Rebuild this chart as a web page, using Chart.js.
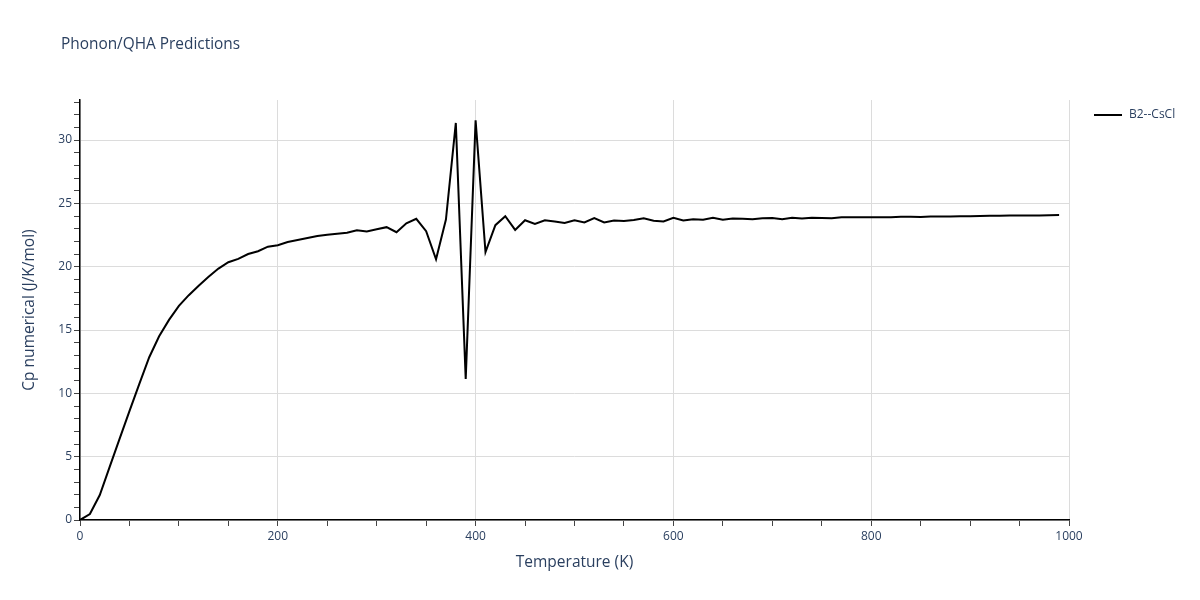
<!DOCTYPE html>
<html>
<head>
<meta charset="utf-8">
<script src="https://cdn.jsdelivr.net/npm/chart.js@4.4.1/dist/chart.umd.min.js"></script>
<style>
    html, body { margin: 0; padding: 0; background: #fff; }
    #wrap { width: 1200px; height: 600px; }
</style>
</head>
<body>
<div id="wrap"><canvas id="cpChart" width="1200" height="600"></canvas></div>
<script>
const temperatures = [
    0, 10, 20, 30, 40, 50, 60, 70, 80, 90,
    100, 110, 120, 130, 140, 150, 160, 170, 180, 190,
    200, 210, 220, 230, 240, 250, 260, 270, 280, 290,
    300, 310, 320, 330, 340, 350, 360, 370, 380, 390,
    400, 410, 420, 430, 440, 450, 460, 470, 480, 490,
    500, 510, 520, 530, 540, 550, 560, 570, 580, 590,
    600, 610, 620, 630, 640, 650, 660, 670, 680, 690,
    700, 710, 720, 730, 740, 750, 760, 770, 780, 790,
    800, 810, 820, 830, 840, 850, 860, 870, 880, 890,
    900, 910, 920, 930, 940, 950, 960, 970, 980, 990
];

const cpValues = [
    0, 0.47, 1.97, 4.2, 6.4, 8.6, 10.75, 12.85, 14.5, 15.8,
    16.9, 17.75, 18.5, 19.2, 19.85, 20.35, 20.62, 21.0, 21.22, 21.58,
    21.7, 21.95, 22.1, 22.26, 22.42, 22.52, 22.6, 22.68, 22.88, 22.78,
    22.95, 23.12, 22.72, 23.42, 23.78, 22.8, 20.58, 23.72, 31.35, 11.14,
    31.55, 21.15, 23.28, 23.98, 22.9, 23.67, 23.38, 23.67, 23.57, 23.45,
    23.67, 23.49, 23.83, 23.49, 23.65, 23.6, 23.68, 23.83, 23.62, 23.57,
    23.86, 23.65, 23.75, 23.7, 23.86, 23.7, 23.8, 23.78, 23.75, 23.83,
    23.85, 23.75, 23.86, 23.8, 23.86, 23.85, 23.83, 23.9, 23.9, 23.9,
    23.9, 23.9, 23.9, 23.95, 23.95, 23.93, 23.97, 23.97, 23.96, 23.99,
    23.99, 24.01, 24.02, 24.02, 24.04, 24.05, 24.05, 24.05, 24.07, 24.08
];

const seriesName = 'B2--CsCl';
const chartTitle = 'Phonon/QHA Predictions';
const xTitle = 'Temperature (K)';
const yTitle = 'Cp numerical (J/K/mol)';

const textColor = '#2a3f5f';
const gridColor = '#dcdcdc';
const fontFamily = '"Open Sans", verdana, arial, sans-serif';

Chart.defaults.font.family = fontFamily;
Chart.defaults.color = textColor;

// title + legend drawn like plotly puts them
const decorations = {
    id: 'decorations',
    afterDraw(chart) {
        const ctx = chart.ctx;
        ctx.save();
        ctx.fillStyle = textColor;
        ctx.textBaseline = 'middle';
        ctx.textAlign = 'left';
        ctx.font = '15.4px ' + fontFamily;
        ctx.fillText(chartTitle, 61, 45);

        ctx.strokeStyle = '#000';
        ctx.lineWidth = 2;
        ctx.beginPath();
        ctx.moveTo(1094, 115);
        ctx.lineTo(1122, 115);
        ctx.stroke();
        ctx.font = '12px ' + fontFamily;
        ctx.fillText(seriesName, 1129, 115);
        ctx.restore();
    }
};

const points = temperatures.map((t, i) => ({ x: t, y: cpValues[i] }));

new Chart(document.getElementById('cpChart'), {
    type: 'line',
    data: {
        datasets: [{
            label: seriesName,
            data: points,
            borderColor: '#000',
            borderWidth: 2,
            pointRadius: 0,
            tension: 0,
            fill: false
        }]
    },
    options: {
        responsive: false,
        animation: false,
        layout: { padding: { left: 0, top: 100, right: 131, bottom: 0 } },
        plugins: {
            legend: { display: false },
            tooltip: { enabled: false },
            title: { display: false }
        },
        scales: {
            x: {
                type: 'linear',
                min: 0,
                max: 1000,
                afterFit: (scale) => { scale.height = 80; },
                border: { color: '#000', width: 1.5 },
                grid: {
                    color: (c) => (c.tick && c.tick.value % 200 === 0) ? gridColor : 'rgba(0,0,0,0)',
                    tickColor: '#444',
                    tickLength: 6,
                    drawTicks: true
                },
                ticks: {
                    stepSize: 50,
                    autoSkip: false,
                    maxRotation: 0,
                    padding: 3,
                    font: { size: 12 },
                    callback: (v) => v % 200 === 0 ? v : ''
                },
                title: {
                    display: true,
                    text: xTitle,
                    font: { size: 15.5 },
                    padding: { top: 0, bottom: 28 }
                }
            },
            y: {
                min: 0,
                max: 33.16,
                afterFit: (scale) => { scale.width = 80; },
                border: { color: '#000', width: 1.5 },
                grid: {
                    color: (c) => (c.tick && c.tick.value % 5 === 0) ? gridColor : 'rgba(0,0,0,0)',
                    tickColor: '#444',
                    tickLength: 6,
                    drawTicks: true
                },
                ticks: {
                    stepSize: 1,
                    includeBounds: false,
                    autoSkip: false,
                    padding: 2,
                    font: { size: 12 },
                    callback: (v) => v % 5 === 0 ? v : ''
                },
                title: {
                    display: true,
                    text: yTitle,
                    font: { size: 15.5 },
                    padding: { top: 20, bottom: 0 }
                }
            }
        }
    },
    plugins: [decorations]
});
</script>
</body>
</html>
